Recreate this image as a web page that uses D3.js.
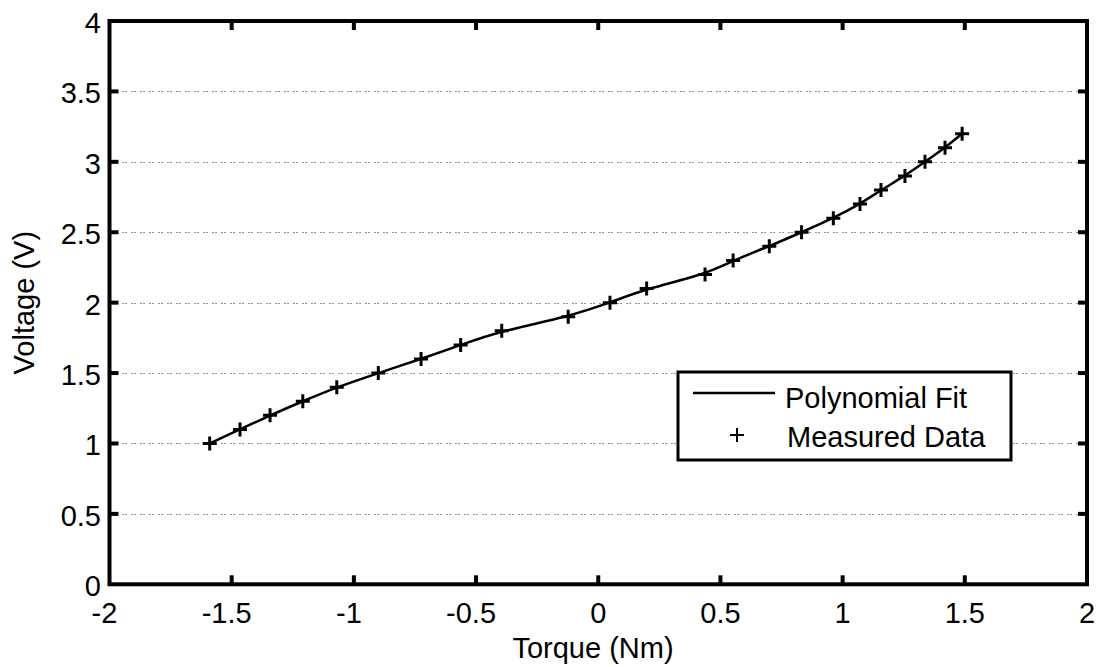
<!DOCTYPE html>
<html>
<head>
<meta charset="utf-8">
<script src="https://cdn.jsdelivr.net/npm/d3@7"></script>
<style>
  html, body { margin: 0; padding: 0; background: #fff; }
  svg { display: block; }
  text { font-family: "Liberation Sans", Arial, sans-serif; fill: #000; }
</style>
</head>
<body>
<svg id="chart" width="1107" height="667"></svg>
<script>
// Measured torque sensor output
const torque = [-1.59, -1.466, -1.343, -1.209, -1.07, -0.9, -0.725, -0.563, -0.395,
                -0.123, 0.048, 0.198, 0.437, 0.552, 0.70, 0.832, 0.962, 1.071,
                1.157, 1.255, 1.337, 1.419, 1.489];
const voltage = [1.0, 1.1, 1.2, 1.3, 1.4, 1.5, 1.6, 1.7, 1.8, 1.9, 2.0, 2.1, 2.2,
                 2.3, 2.4, 2.5, 2.6, 2.7, 2.8, 2.9, 3.0, 3.1, 3.2];

const xTicks = [-2, -1.5, -1, -0.5, 0, 0.5, 1, 1.5, 2];
const yTicks = [0, 0.5, 1, 1.5, 2, 2.5, 3, 3.5, 4];
const xTickLabels = ["-2", "-1.5", "-1", "-0.5", "0", "0.5", "1", "1.5", "2"];
const yTickLabels = ["0", "0.5", "1", "1.5", "2", "2.5", "3", "3.5", "4"];
const seriesNames = ["Polynomial Fit", "Measured Data"];

const svg = d3.select("#chart");
const plotLeft = 109.5, plotRight = 1087, plotTop = 21, plotBottom = 584.3;

const x = d3.scaleLinear().domain([-2, 2]).range([plotLeft, plotRight]);
const y = d3.scaleLinear().domain([0, 4]).range([plotBottom, plotTop]);

const data = torque.map((t, i) => ({ t, v: voltage[i] }));

// Horizontal dotted grid
svg.append("g")
  .selectAll("line")
  .data(yTicks.slice(1, -1))
  .join("line")
  .attr("x1", plotLeft + 4).attr("x2", plotRight - 4)
  .attr("y1", d => Math.round(y(d)) + 0.5).attr("y2", d => Math.round(y(d)) + 0.5)
  .attr("stroke", "#222")
  .attr("stroke-width", 1)
  .attr("stroke-dasharray", "1,2,1,5");

// Smooth fit curve through the measured points
const line = d3.line()
  .x(d => x(d.t))
  .y(d => y(d.v))
  .curve(d3.curveBasis);

svg.append("path")
  .datum(data)
  .attr("d", line)
  .attr("fill", "none")
  .attr("stroke", "#000")
  .attr("stroke-width", 2.5);

// Plus markers
const pm = 7;
const plusPath = (cx, cy) => `M${cx - pm},${cy}H${cx + pm}M${cx},${cy - pm}V${cy + pm}`;
svg.append("g")
  .selectAll("path")
  .data(data)
  .join("path")
  .attr("d", d => plusPath(x(d.t), y(d.v)))
  .attr("stroke", "#000")
  .attr("stroke-width", 3)
  .attr("fill", "none");

// Axes box with inward ticks
const tl = 9;
const frame = svg.append("g");
const innerX = xTicks.slice(1, -1);
const innerY = yTicks.slice(1, -1);
frame.selectAll(".xb").data(innerX).join("line")
  .attr("x1", d => x(d)).attr("x2", d => x(d))
  .attr("y1", plotBottom).attr("y2", plotBottom - tl)
  .attr("stroke", "#000").attr("stroke-width", 4);
frame.selectAll(".xt").data(innerX).join("line")
  .attr("x1", d => x(d)).attr("x2", d => x(d))
  .attr("y1", plotTop).attr("y2", plotTop + tl)
  .attr("stroke", "#000").attr("stroke-width", 4);
frame.selectAll(".yl").data(innerY).join("line")
  .attr("x1", plotLeft).attr("x2", plotLeft + tl)
  .attr("y1", d => y(d)).attr("y2", d => y(d))
  .attr("stroke", "#000").attr("stroke-width", 4);
frame.selectAll(".yr").data(innerY).join("line")
  .attr("x1", plotRight).attr("x2", plotRight - tl)
  .attr("y1", d => y(d)).attr("y2", d => y(d))
  .attr("stroke", "#000").attr("stroke-width", 4);
frame.append("rect")
  .attr("x", plotLeft).attr("y", plotTop)
  .attr("width", plotRight - plotLeft).attr("height", plotBottom - plotTop)
  .attr("fill", "none").attr("stroke", "#000").attr("stroke-width", 4);

// Tick labels
svg.append("g")
  .selectAll("text")
  .data(xTicks)
  .join("text")
  .attr("x", d => x(d) - (d < 0 ? 5 : 0))
  .attr("y", 623)
  .attr("text-anchor", "middle")
  .attr("font-size", 29)
  .text((d, i) => xTickLabels[i]);

svg.append("g")
  .selectAll("text")
  .data(yTicks)
  .join("text")
  .attr("x", 101)
  .attr("y", d => y(d) + 12)
  .attr("text-anchor", "end")
  .attr("font-size", 29)
  .text((d, i) => yTickLabels[i]);

// Axis titles
svg.append("text")
  .attr("x", 593).attr("y", 658)
  .attr("text-anchor", "middle")
  .attr("font-size", 29)
  .text("Torque (Nm)");

svg.append("text")
  .attr("transform", `translate(34,${(plotTop + plotBottom) / 2}) rotate(-90)`)
  .attr("text-anchor", "middle")
  .attr("font-size", 29)
  .text("Voltage (V)");

// Legend
const lg = svg.append("g");
lg.append("rect")
  .attr("x", 678).attr("y", 372)
  .attr("width", 333).attr("height", 88)
  .attr("fill", "#fff").attr("stroke", "#000").attr("stroke-width", 3);
lg.append("line")
  .attr("x1", 693).attr("x2", 775)
  .attr("y1", 393).attr("y2", 393)
  .attr("stroke", "#000").attr("stroke-width", 2.5);
lg.append("path")
  .attr("d", plusPath(737, 435))
  .attr("stroke", "#000").attr("stroke-width", 2)
  .attr("fill", "none");
lg.append("text")
  .attr("x", 785).attr("y", 408)
  .attr("font-size", 29)
  .text(seriesNames[0]);
lg.append("text")
  .attr("x", 787).attr("y", 447)
  .attr("font-size", 29)
  .text(seriesNames[1]);
</script>
</body>
</html>
